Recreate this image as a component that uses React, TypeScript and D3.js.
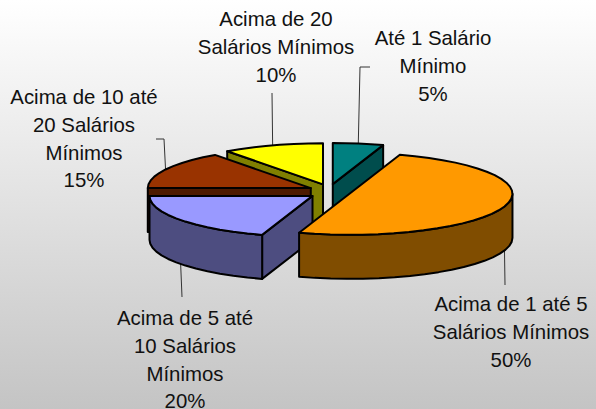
import React from "react";
import * as d3 from "d3";

const categories = [
  "Até 1 Salário Mínimo",
  "Acima de 1 até 5 Salários Mínimos",
  "Acima de 5 até 10 Salários Mínimos",
  "Acima de 10 até 20 Salários Mínimos",
  "Acima de 20 Salários Mínimos",
];
const shares = [5, 50, 20, 15, 10];
const topColors = ["#008080", "#ff9900", "#9999ff", "#993300", "#ffff00"];
const wallColors = ["#004d4d", "#804d00", "#4d4d80", "#4d1a00", "#808000"];

// label lines, split the way the chart wraps them
const labelLines = [
  ["Até 1 Salário", "Mínimo", "5%"],
  ["Acima de 1 até 5", "Salários Mínimos", "50%"],
  ["Acima de 5 até", "10 Salários", "Mínimos", "20%"],
  ["Acima de 10 até", "20 Salários", "Mínimos", "15%"],
  ["Acima de 20", "Salários Mínimos", "10%"],
];
const labelCenters = [
  [433, 45],
  [511, 311],
  [185, 325],
  [84, 104],
  [276, 26],
];
// elbow / end of each leader line
const leaderPaths = [
  [[360, 67], [370, 67]],
  [[505, 285]],
  [[182, 297]],
  [[164, 139], [156, 139]],
  [[272, 93]],
];

const width = 596;
const height = 409;
const cx = 329.5;
const cy = 191.5;
const rx = 163;
const ry = 41;
const depth = 44;
const explodeX = 21;
const explodeY = 7.5;
const lineHeight = 27.8;

type Pt = [number, number];

const arcPoints = (c: Pt, a0: number, a1: number): Pt[] => {
  const n = Math.max(2, Math.ceil((a1 - a0) / 0.1));
  return d3.range(n + 1).map((i) => {
    const a = a0 + ((a1 - a0) * i) / n;
    return [c[0] + rx * Math.sin(a), c[1] - ry * Math.cos(a)] as Pt;
  });
};
const down = (pts: Pt[]): Pt[] => pts.map(([x, y]) => [x, y + depth] as Pt);
const line = d3.line<Pt>().curve(d3.curveLinear);
const closed = (pts: Pt[]) => line(pts) + "Z";

export default function App() {
  const arcs = d3
    .pie<number>()
    .sort(null)
    .startAngle(0)
    .endAngle(2 * Math.PI)(shares);

  const slices = arcs.map((d, i) => {
    const mid = (d.startAngle + d.endAngle) / 2;
    const c: Pt = [
      cx + explodeX * Math.sin(mid),
      cy - explodeY * Math.cos(mid),
    ];
    const top = arcPoints(c, d.startAngle, d.endAngle);
    const walls: string[] = [];
    // cut faces, only the ones turned toward the viewer
    if (Math.sin(d.startAngle) < -1e-6) {
      const p = [c, top[0]];
      walls.push(closed([...p, ...down(p).reverse()]));
    }
    if (Math.sin(d.endAngle) > 1e-6) {
      const p = [c, top[top.length - 1]];
      walls.push(closed([...p, ...down(p).reverse()]));
    }
    // round outer wall, front half of the ellipse only
    const f0 = Math.max(d.startAngle, Math.PI / 2);
    const f1 = Math.min(d.endAngle, (3 * Math.PI) / 2);
    if (f1 > f0) {
      const p = arcPoints(c, f0, f1);
      walls.push(closed([...p, ...down(p).reverse()]));
    }
    const a: Pt = [c[0] + rx * Math.sin(mid), c[1] - ry * Math.cos(mid)];
    const front = Math.cos(mid) < 0;
    const anchor: Pt = front ? [a[0], a[1] + depth] : a;
    return { i, walls, top: closed([c, ...top]), anchor };
  });

  // back slices first so the front ones paint over them
  const order = [4, 0, 3, 2, 1];

  return (
    <svg
      width={width}
      height={height}
      style={{ position: "absolute", left: 0, top: 0 }}
    >
      <defs>
        <linearGradient id="bg" x1="0" y1="0" x2="0" y2="1">
          <stop offset="0" stopColor="#ffffff" />
          <stop offset="1" stopColor="#c4c4c4" />
        </linearGradient>
      </defs>
      <rect width={width} height={height} fill="url(#bg)" />

      {slices.map((s) => (
        <path
          key={categories[s.i]}
          d={line([s.anchor, ...(leaderPaths[s.i] as Pt[])]) as string}
          fill="none"
          stroke="#333"
          strokeWidth={1}
        />
      ))}

      {order.map((i) => (
        <g key={i} stroke="#000" strokeWidth={2} strokeLinejoin="round">
          {slices[i].walls.map((w, k) => (
            <path key={k} d={w} fill={wallColors[i]} />
          ))}
          <path d={slices[i].top} fill={topColors[i]} />
        </g>
      ))}

      {labelLines.map((lines, i) => (
        <text
          key={i}
          textAnchor="middle"
          fontFamily="'Liberation Sans', Arial, sans-serif"
          fontSize={20.4}
          fill="#111"
        >
          {lines.map((t, k) => (
            <tspan key={k} x={labelCenters[i][0]} y={labelCenters[i][1] + k * lineHeight}>
              {t}
            </tspan>
          ))}
        </text>
      ))}
    </svg>
  );
}
